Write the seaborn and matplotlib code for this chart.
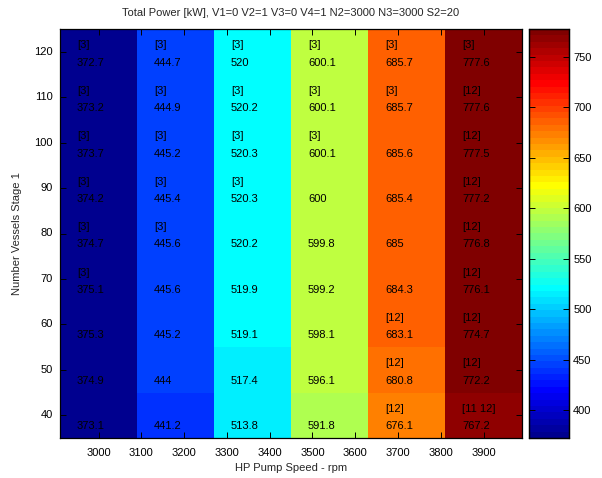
import matplotlib
matplotlib.use("Agg")
import matplotlib.pyplot as plt
from matplotlib.colors import ListedColormap
import seaborn as sns
import pandas as pd
import numpy as np

# HP pump speed (columns) and number of vessels (rows, top to bottom)
speeds = [3000, 3180, 3360, 3540, 3720, 3900]
vessels = [120, 110, 100, 90, 80, 70, 60, 50, 40]

p3000 = [372.7, 373.2, 373.7, 374.2, 374.7, 375.1, 375.3, 374.9, 373.1]
p3180 = [444.7, 444.9, 445.2, 445.4, 445.6, 445.6, 445.2, 444.0, 441.2]
p3360 = [520.0, 520.2, 520.3, 520.3, 520.2, 519.9, 519.1, 517.4, 513.8]
p3540 = [600.1, 600.1, 600.1, 600.0, 599.8, 599.2, 598.1, 596.1, 591.8]
p3720 = [685.7, 685.7, 685.6, 685.4, 685.0, 684.3, 683.1, 680.8, 676.1]
p3900 = [777.6, 777.6, 777.5, 777.2, 776.8, 776.1, 774.7, 772.2, 767.2]

l3000 = ["[3]", "[3]", "[3]", "[3]", "[3]", "[3]", "", "", ""]
l3180 = ["[3]", "[3]", "[3]", "[3]", "[3]", "", "", "", ""]
l3360 = ["[3]", "[3]", "[3]", "[3]", "", "", "", "", ""]
l3540 = ["[3]", "[3]", "[3]", "", "", "", "", "", ""]
l3720 = ["[3]", "[3]", "", "", "", "", "[12]", "[12]", "[12]"]
l3900 = ["[3]", "[12]", "[12]", "[12]", "[12]", "[12]", "[12]", "[12]", "[11 12]"]

xticks = [3000, 3100, 3200, 3300, 3400, 3500, 3600, 3700, 3800, 3900]
cbar_ticks = [400, 450, 500, 550, 600, 650, 700, 750]

df = pd.DataFrame(
    {s: v for s, v in zip(speeds, [p3000, p3180, p3360, p3540, p3720, p3900])},
    index=vessels,
)
labels = pd.DataFrame(
    {s: v for s, v in zip(speeds, [l3000, l3180, l3360, l3540, l3720, l3900])},
    index=vessels,
)


def matlab_jet(m=64):
    # same construction as MATLAB's jet(m)
    n = int(np.ceil(m / 4))
    u = np.concatenate([np.arange(1, n + 1) / n, np.ones(n - 1), np.arange(n, 0, -1) / n])
    g = int(np.ceil(n / 2)) - (1 if m % 4 == 1 else 0) + np.arange(1, len(u) + 1)
    r = g + n
    b = g - n
    J = np.zeros((m, 3))
    J[r[r <= m] - 1, 0] = u[r <= m]
    J[g[g <= m] - 1, 1] = u[g <= m]
    J[b[b >= 1] - 1, 2] = u[b >= 1]
    return ListedColormap(J)


sns.set_style("white")
plt.rcParams["font.family"] = ["Liberation Sans", "DejaVu Sans"]
plt.rcParams["font.size"] = 8

fig = plt.figure(figsize=(6.02, 4.78), dpi=100)
ax = fig.add_axes([60 / 602, 40 / 478, 462 / 602, 409 / 478])
cax = fig.add_axes([529 / 602, 40 / 478, 40 / 602, 409 / 478])

vmin = df.values.min()
vmax = df.values.max()
sns.heatmap(df, ax=ax, cmap=matlab_jet(64), vmin=vmin, vmax=vmax,
            cbar_ax=cax, cbar_kws={"ticks": cbar_ticks})

for i, v in enumerate(vessels):
    for j, s in enumerate(speeds):
        val = df.loc[v, s]
        lab = labels.loc[v, s]
        if lab:
            ax.text(j + 0.22, i + 0.36, lab, ha="left", va="center",
                    fontsize=8, color="black")
        ax.text(j + 0.22, i + 0.74, f"{val:g}", ha="left", va="center",
                fontsize=8, color="black")

# numeric x ticks mapped onto the cell grid
step = speeds[1] - speeds[0]
ax.set_xticks([(t - speeds[0]) / step + 0.5 for t in xticks])
ax.set_xticklabels([str(t) for t in xticks], rotation=0)
ax.set_yticks([i + 0.5 for i in range(len(vessels))])
ax.set_yticklabels([str(v) for v in vessels], rotation=0)

ax.set_axisbelow(False)
ax.tick_params(direction="in", length=4, width=0.7, bottom=True, left=True,
               top=True, right=True, labelsize=8, colors="black", pad=5)
ax.tick_params(axis="x", pad=7)
for sp in ax.spines.values():
    sp.set_visible(True)
    sp.set_linewidth(0.9)
    sp.set_color("black")

ax.set_xlabel("HP Pump Speed - rpm", fontsize=8, labelpad=4)
ax.set_ylabel("Number Vessels Stage 1", fontsize=8, labelpad=9)
ax.set_title("Total Power [kW], V1=0 V2=1 V3=0 V4=1 N2=3000 N3=3000 S2=20",
             fontsize=8, pad=9)

cax.set_axisbelow(False)
cax.tick_params(direction="in", length=4, width=0.7, left=True, right=True,
                labelsize=8, colors="black", pad=3)
cax.yaxis.set_ticks_position("both")
cax.yaxis.set_label_position("right")
for sp in cax.spines.values():
    sp.set_visible(True)
    sp.set_linewidth(0.9)
    sp.set_color("black")

fig.savefig("out.png", dpi=100)
plt.close(fig)
